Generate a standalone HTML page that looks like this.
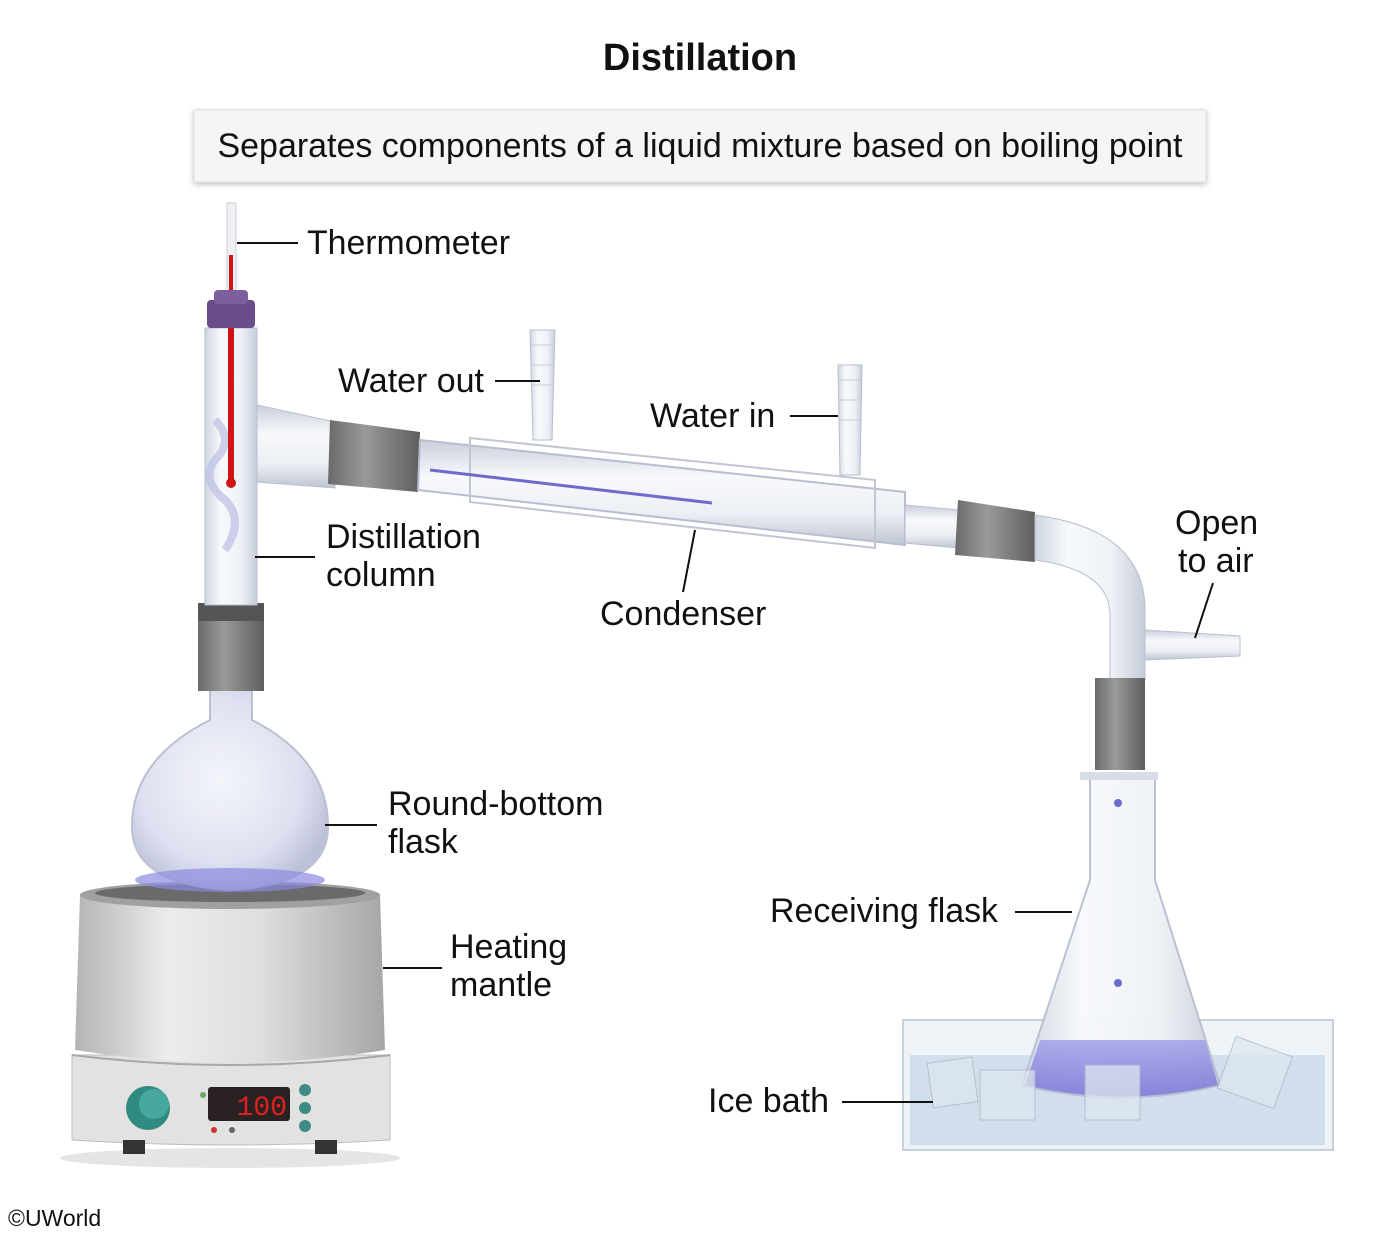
<!DOCTYPE html>
<html><head><meta charset="utf-8"><style>
html,body{margin:0;padding:0;background:#fff;}
svg{display:block;font-family:"Liberation Sans",Arial,sans-serif;}
</style></head><body>
<svg width="1400" height="1234" viewBox="0 0 1400 1234" xmlns="http://www.w3.org/2000/svg">
<defs>
<linearGradient id="mantle" x1="0" x2="1" y1="0" y2="0">
<stop offset="0" stop-color="#b4b4b2"/><stop offset="0.3" stop-color="#ececea"/><stop offset="0.6" stop-color="#dededc"/><stop offset="1" stop-color="#a6a6a4"/></linearGradient>
<linearGradient id="glassV" x1="0" x2="1" y1="0" y2="0">
<stop offset="0" stop-color="#cfd6e0"/><stop offset="0.3" stop-color="#f7f9fc"/><stop offset="0.7" stop-color="#eef1f6"/><stop offset="1" stop-color="#c5ccd8"/></linearGradient>
<linearGradient id="glassH" x1="0" x2="0" y1="0" y2="1">
<stop offset="0" stop-color="#c8ceda"/><stop offset="0.35" stop-color="#f8f9fc"/><stop offset="0.7" stop-color="#eceff4"/><stop offset="1" stop-color="#bfc6d2"/></linearGradient>
<linearGradient id="joint" x1="0" x2="1"><stop offset="0" stop-color="#6a6a6a"/><stop offset="0.4" stop-color="#9a9a9a"/><stop offset="1" stop-color="#5e5e5e"/></linearGradient>
<linearGradient id="blue" x1="0" x2="0" y1="0" y2="1"><stop offset="0" stop-color="#a7a5ea"/><stop offset="1" stop-color="#7b79d6"/></linearGradient>
<radialGradient id="bulb" cx="0.45" cy="0.45" r="0.6"><stop offset="0" stop-color="#f4f5fb"/><stop offset="0.7" stop-color="#dcdff0"/><stop offset="1" stop-color="#b9bdd6"/></radialGradient>
<filter id="sh" x="-5%" y="-20%" width="110%" height="150%"><feDropShadow dx="0" dy="2" stdDeviation="3" flood-color="#000" flood-opacity="0.25"/></filter>
</defs>

<text x="700" y="70" text-anchor="middle" font-size="38" font-weight="bold" fill="#111">Distillation</text>
<rect x="194" y="110" width="1012" height="72" fill="#f5f5f5" stroke="#e0e0e0" filter="url(#sh)"/>
<text x="700" y="157" text-anchor="middle" font-size="34" fill="#111" textLength="965" lengthAdjust="spacingAndGlyphs">Separates components of a liquid mixture based on boiling point</text>

<!-- Heating mantle -->
<ellipse cx="230" cy="1158" rx="170" ry="10" fill="#000" opacity="0.1"/>
<path d="M72 1055 L390 1055 L390 1140 Q231 1150 72 1140 Z" fill="#e2e2e0" stroke="#bdbdbb"/>
<path d="M72 1055 Q231 1075 390 1055" fill="none" stroke="#a8a8a8" stroke-width="2"/>
<path d="M80 895 L380 895 L385 1050 Q231 1075 75 1050 Z" fill="url(#mantle)"/>
<ellipse cx="230" cy="895" rx="150" ry="14" fill="#a0a09e"/>
<ellipse cx="230" cy="893" rx="135" ry="9" fill="#6a6a6a"/>
<rect x="123" y="1140" width="22" height="14" fill="#333"/><rect x="315" y="1140" width="22" height="14" fill="#333"/>
<circle cx="148" cy="1108" r="22" fill="#2f8a82"/><circle cx="154" cy="1104" r="15" fill="#47a89e"/>
<rect x="208" y="1087" width="82" height="34" rx="3" fill="#2a2222"/>
<text x="287" y="1115" text-anchor="end" font-size="28" fill="#e02020" font-family="Liberation Mono,monospace">100</text>
<circle cx="203" cy="1095" r="3" fill="#6a6"/><circle cx="214" cy="1130" r="3" fill="#c33"/><circle cx="232" cy="1130" r="3" fill="#666"/>
<circle cx="305" cy="1090" r="6" fill="#3c8c85"/><circle cx="305" cy="1108" r="6" fill="#3c8c85"/><circle cx="305" cy="1126" r="6" fill="#3c8c85"/>

<!-- Round-bottom flask -->
<path d="M210 690 L210 720 Q130 760 132 830 Q135 885 230 890 Q325 885 328 830 Q330 760 252 720 L252 690 Z" fill="url(#bulb)" stroke="#b8bed0" stroke-width="2" opacity="0.95"/>
<ellipse cx="230" cy="880" rx="95" ry="12" fill="#8d8ae0" opacity="0.7"/>
<rect x="198" y="603" width="66" height="88" fill="url(#joint)"/>
<rect x="198" y="603" width="66" height="18" fill="#555"/>

<!-- Distillation column -->
<rect x="205" y="328" width="52" height="277" fill="url(#glassV)" stroke="#b8bed0"/>
<path d="M257 405 L335 422 L335 488 L257 482 Z" fill="url(#glassH)" stroke="#b8bed0"/>
<path d="M215 420 q20 20 0 40 q-15 20 10 40 q20 20 0 50" fill="none" stroke="#c2c4e6" stroke-width="8" opacity="0.8"/>
<rect x="228" y="320" width="6" height="165" fill="#d01414"/><circle cx="231" cy="483" r="5" fill="#d01414"/>
<rect x="227" y="203" width="9" height="90" fill="#eef0f4" stroke="#c8ccd4"/>
<rect x="229" y="255" width="4" height="40" fill="#d01414"/>
<rect x="207" y="300" width="48" height="28" rx="4" fill="#6a4d8a"/>
<rect x="214" y="290" width="34" height="14" rx="4" fill="#7d5fa0"/>

<!-- joint to condenser -->
<path d="M330 420 L420 432 L418 492 L328 484 Z" fill="url(#joint)"/>
<!-- condenser -->
<path d="M420 440 L905 492 L905 545 L418 490 Z" fill="url(#glassH)" stroke="#b8bed0" stroke-width="2"/>
<path d="M470 438 L875 480 L875 548 L470 502 Z" fill="none" stroke="#c0c6d2" stroke-width="2"/>
<path d="M430 470 L712 503" stroke="#6d6bcc" stroke-width="3"/>
<!-- nozzles -->
<path d="M530 330 L555 330 L552 440 L533 440 Z" fill="url(#glassV)" stroke="#b8bed0"/>
<path d="M531 345 L554 345 M531 365 L554 365 M531 385 L554 385" stroke="#c5ccd8"/>
<path d="M838 365 L862 365 L860 475 L840 475 Z" fill="url(#glassV)" stroke="#b8bed0"/>
<path d="M839 380 L861 380 M839 400 L861 400 M839 420 L861 420" stroke="#c5ccd8"/>
<!-- right adapter -->
<path d="M905 505 L958 510 L958 548 L905 543 Z" fill="url(#glassH)" stroke="#b8bed0"/>
<path d="M958 500 L1035 512 L1035 562 L955 555 Z" fill="url(#joint)"/>
<path d="M1035 515 Q1145 530 1145 610 L1145 680 L1110 680 L1110 615 Q1110 570 1035 560 Z" fill="url(#glassV)" stroke="#b8bed0"/>
<path d="M1145 630 L1240 636 L1240 656 L1145 660 Z" fill="url(#glassH)" stroke="#b8bed0"/>
<rect x="1095" y="678" width="50" height="92" fill="url(#joint)"/>
<!-- Ice bath -->
<rect x="903" y="1020" width="430" height="130" fill="#eef3f8" stroke="#c8d0da" stroke-width="2"/>
<rect x="910" y="1055" width="415" height="90" fill="#c9daea" opacity="0.8"/>
<!-- Erlenmeyer -->
<path d="M1090 775 L1155 775 L1155 880 L1220 1085 Q1122 1110 1022 1085 L1090 880 Z" fill="url(#glassV)" stroke="#b8bed0" stroke-width="2" opacity="0.95"/>
<path d="M1040 1040 L1205 1040 L1218 1085 Q1122 1108 1025 1085 Z" fill="url(#blue)" opacity="0.9"/>
<rect x="1080" y="772" width="78" height="8" fill="#d8dce6"/>
<g fill="#dde6ef" stroke="#aab6c4" opacity="0.75">
<rect x="930" y="1060" width="45" height="45" transform="rotate(-8 952 1082)"/>
<rect x="980" y="1070" width="55" height="50"/>
<rect x="1085" y="1065" width="55" height="55"/>
<rect x="1225" y="1045" width="60" height="55" transform="rotate(20 1255 1072)"/>
</g>
<circle cx="1118" cy="803" r="4" fill="#6d6bcc"/><circle cx="1118" cy="983" r="4" fill="#6d6bcc"/>

<!-- labels -->
<g font-size="34" fill="#111" stroke="none">
<text x="307" y="254" textLength="203" lengthAdjust="spacingAndGlyphs">Thermometer</text>
<text x="338" y="392" textLength="146" lengthAdjust="spacingAndGlyphs">Water out</text>
<text x="650" y="427">Water in</text>
<text x="326" y="548">Distillation</text><text x="326" y="586">column</text>
<text x="600" y="625">Condenser</text>
<text x="1175" y="534">Open</text><text x="1178" y="572">to air</text>
<text x="388" y="815">Round-bottom</text><text x="388" y="853">flask</text>
<text x="450" y="958">Heating</text><text x="450" y="996">mantle</text>
<text x="770" y="922" textLength="228" lengthAdjust="spacingAndGlyphs">Receiving flask</text>
<text x="708" y="1112">Ice bath</text>
<text x="8" y="1226" font-size="23">©UWorld</text>
</g>
<g stroke="#111" stroke-width="2">
<line x1="237" y1="243" x2="298" y2="243"/>
<line x1="495" y1="381" x2="540" y2="381"/>
<line x1="790" y1="416" x2="838" y2="416"/>
<line x1="255" y1="557" x2="315" y2="557"/>
<line x1="695" y1="530" x2="683" y2="592"/>
<line x1="1213" y1="583" x2="1195" y2="638"/>
<line x1="325" y1="825" x2="377" y2="825"/>
<line x1="383" y1="968" x2="442" y2="968"/>
<line x1="1015" y1="912" x2="1072" y2="912"/>
<line x1="842" y1="1102" x2="933" y2="1102"/>
</g>
</svg>
</body></html>
